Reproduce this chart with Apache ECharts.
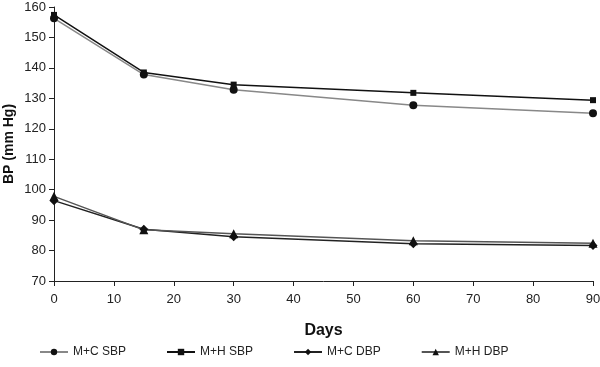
<!DOCTYPE html>
<html><head><meta charset="utf-8">
<script src="https://cdn.jsdelivr.net/npm/echarts@6/dist/echarts.min.js"></script>
<style>html,body{margin:0;padding:0;background:#fff}#c{width:600px;height:367px}</style>
</head><body><div id="c"></div>
<script>
var days = [0, 15, 30, 60, 90];
var seriesNames = ['M+C SBP', 'M+H SBP', 'M+C DBP', 'M+H DBP'];
var mcSBP = [156.3, 137.8, 132.8, 127.7, 125.1];
var mhSBP = [157.4, 138.5, 134.5, 131.8, 129.4];
var mcDBP = [96.4, 87.0, 84.5, 82.2, 81.7];
var mhDBP = [97.8, 86.8, 85.5, 83.2, 82.4];
var yTicks = [70, 160, 10];
var xTicks = [0, 90, 10];

function pairs(v){ return days.map(function(d,i){ return [d, v[i]]; }); }
var font = 'Liberation Sans, Arial, sans-serif';
function mk(name, data, symbol, size, lineColor){
  return {name:name, type:'line', data:pairs(data), symbol:symbol, symbolSize:size,
    showAllSymbol:true, lineStyle:{color:lineColor, width:1.5}, itemStyle:{color:'#111'},
    emphasis:{disabled:true}, animation:false, z: lineColor==='#111'?3:2};
}
var chart = echarts.init(document.getElementById('c'));
chart.setOption({
  animation:false,
  grid:{left:54, right:7, top:7, bottom:86, containLabel:false, outerBoundsMode:'none'},
  xAxis:{type:'value', min:xTicks[0], max:xTicks[1], interval:xTicks[2],
    name:'Days', nameLocation:'middle', nameGap:42,
    nameTextStyle:{fontFamily:font, fontWeight:'bold', fontSize:16, color:'#111'},
    axisLine:{lineStyle:{color:'#222'}}, axisTick:{inside:false, length:5, lineStyle:{color:'#222'}},
    axisLabel:{fontFamily:font, fontSize:13, color:'#222', margin:12}, splitLine:{show:false}},
  yAxis:{type:'value', min:yTicks[0], max:yTicks[1], interval:yTicks[2],
    name:'BP (mm Hg)', nameLocation:'middle', nameGap:38, nameMoveOverlap:false,
    nameTextStyle:{fontFamily:font, fontWeight:'bold', fontSize:14, color:'#111'},
    axisLine:{show:true, lineStyle:{color:'#222'}}, axisTick:{show:true, length:5, lineStyle:{color:'#222'}},
    axisLabel:{fontFamily:font, fontSize:13, color:'#222', margin:8}, splitLine:{show:false}},
  legend:{bottom:4, left:34, itemWidth:28, itemHeight:8, itemGap:40,
    textStyle:{fontFamily:font, fontSize:12, color:'#222'},
    data:seriesNames.map(function(n){return {name:n};})},
  series:[
    mk(seriesNames[0], mcSBP, 'circle', 8, '#888'),
    mk(seriesNames[1], mhSBP, 'rect', 6, '#111'),
    mk(seriesNames[2], mcDBP, 'diamond', 9, '#222'),
    mk(seriesNames[3], mhDBP, 'triangle', 9, '#555')
  ]
});
</script></body></html>
